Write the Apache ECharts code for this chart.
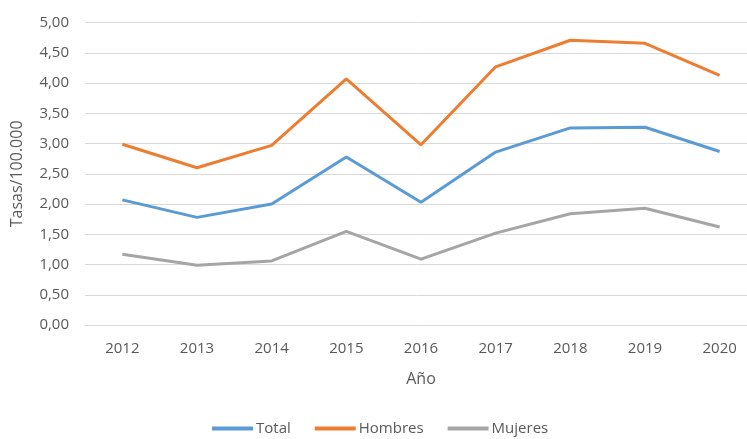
<!DOCTYPE html>
<html lang="es">
  <head>
    <meta charset="UTF-8" />
    <title>Tasas por año</title>
    <script src="https://cdn.jsdelivr.net/npm/echarts@6/dist/echarts.min.js"></script>
    <style>
      * { margin: 0; padding: 0; box-sizing: border-box; }
      body { background: #fff; overflow: hidden; }
      #chart { width: 747px; height: 439px; }
    </style>
  </head>
  <body>
    <div id="chart"></div>
    <script>
      const years = ["2012", "2013", "2014", "2015", "2016", "2017", "2018", "2019", "2020"];
      const total = [2.07, 1.78, 2.0, 2.78, 2.03, 2.86, 3.26, 3.27, 2.87];
      const hombres = [2.99, 2.6, 2.97, 4.07, 2.98, 4.27, 4.71, 4.66, 4.13];
      const mujeres = [1.17, 0.99, 1.06, 1.55, 1.09, 1.52, 1.84, 1.93, 1.62];

      const font = "'Open Sans', 'Liberation Sans', sans-serif";
      const grey = "#595959";

      function mkLine(name, data, color) {
        return {
          name: name,
          type: "line",
          data: data,
          symbol: "none",
          lineStyle: { color: color, width: 3 },
          itemStyle: { color: color },
        };
      }

      const chart = echarts.init(document.getElementById("chart"));
      chart.setOption({
        animation: false,
        textStyle: { fontFamily: font },
        grid: { left: 85, top: 22.7, width: 672, height: 302.3, outerBoundsMode: "none", containLabel: false },
        legend: {
          left: 212,
          top: 421,
          padding: 0,
          icon: "rect",
          itemWidth: 41,
          itemHeight: 4,
          itemGap: 24,
          textStyle: { color: grey, fontSize: 15, fontFamily: font, padding: [0, 0, 0, -2] },
          data: ["Total", "Hombres", "Mujeres"],
        },
        xAxis: {
          type: "category",
          data: years,
          boundaryGap: true,
          name: "Año",
          nameLocation: "middle",
          nameGap: 46,
          nameTextStyle: { color: grey, fontSize: 16 },
          axisLine: { lineStyle: { color: "#d9d9d9" } },
          axisTick: { show: false },
          axisLabel: { color: grey, fontSize: 15, margin: 16 },
        },
        yAxis: {
          type: "value",
          min: 0,
          max: 5,
          interval: 0.5,
          name: "Tasas/100.000",
          nameLocation: "middle",
          nameGap: 60,
          nameTextStyle: { color: grey, fontSize: 16 },
          axisLine: { show: false },
          axisTick: { show: false },
          axisLabel: {
            color: grey,
            fontSize: 15,
            margin: 16,
            formatter: (v) => v.toFixed(2).replace(".", ","),
          },
          splitLine: { lineStyle: { color: "#d9d9d9", width: 1 } },
        },
        series: [
          mkLine("Total", total, "#5b9bd5"),
          mkLine("Hombres", hombres, "#ed7d31"),
          mkLine("Mujeres", mujeres, "#a5a5a5"),
        ],
      });
    </script>
  </body>
</html>
